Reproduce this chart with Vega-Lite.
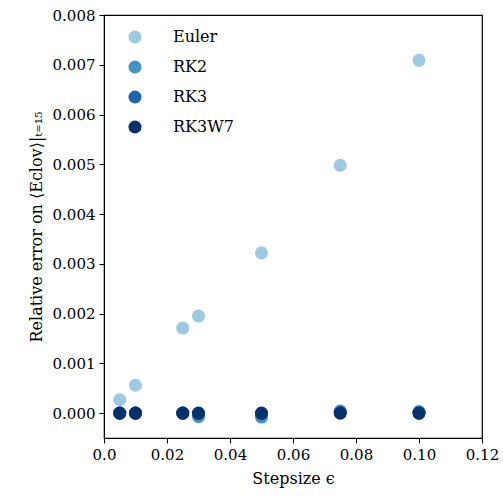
{
  "$schema": "https://vega.github.io/schema/vega-lite/v6.json",
  "width": 378,
  "height": 423,
  "autosize": {"type": "none"},
  "padding": {"left": 104, "top": 15, "right": 21, "bottom": 62},
  "background": "white",
  "config": {
    "font": "DejaVu Serif",
    "view": {"stroke": "black", "strokeWidth": 1.2},
    "axis": {
      "grid": false,
      "domainColor": "black",
      "tickColor": "black",
      "tickSize": 5,
      "labelColor": "black",
      "titleColor": "black",
      "labelFontSize": 15,
      "titleFontSize": 16,
      "titleFontWeight": "normal",
      "labelFont": "DejaVu Serif",
      "titleFont": "DejaVu Serif"
    },
    "legend": {"labelFont": "DejaVu Serif", "labelFontSize": 16, "labelColor": "black"}
  },
  "data": {
    "values": [
      {"eps": 0.005, "err": 0.00027, "method": "Euler"},
      {"eps": 0.01, "err": 0.00056, "method": "Euler"},
      {"eps": 0.025, "err": 0.00171, "method": "Euler"},
      {"eps": 0.03, "err": 0.00195, "method": "Euler"},
      {"eps": 0.05, "err": 0.00322, "method": "Euler"},
      {"eps": 0.075, "err": 0.00498, "method": "Euler"},
      {"eps": 0.1, "err": 0.00709, "method": "Euler"},
      {"eps": 0.005, "err": 0.0, "method": "RK2"},
      {"eps": 0.01, "err": 0.0, "method": "RK2"},
      {"eps": 0.025, "err": 0.0, "method": "RK2"},
      {"eps": 0.03, "err": -0.00007, "method": "RK2"},
      {"eps": 0.05, "err": -0.00008, "method": "RK2"},
      {"eps": 0.075, "err": 0.00004, "method": "RK2"},
      {"eps": 0.1, "err": 0.00003, "method": "RK2"},
      {"eps": 0.005, "err": 0.0, "method": "RK3"},
      {"eps": 0.01, "err": 0.0, "method": "RK3"},
      {"eps": 0.025, "err": 0.0, "method": "RK3"},
      {"eps": 0.03, "err": -0.00001, "method": "RK3"},
      {"eps": 0.05, "err": -0.00001, "method": "RK3"},
      {"eps": 0.075, "err": 0.00001, "method": "RK3"},
      {"eps": 0.1, "err": 0.0, "method": "RK3"},
      {"eps": 0.005, "err": 0.0, "method": "RK3W7"},
      {"eps": 0.01, "err": 0.0, "method": "RK3W7"},
      {"eps": 0.025, "err": 0.0, "method": "RK3W7"},
      {"eps": 0.03, "err": 0.0, "method": "RK3W7"},
      {"eps": 0.05, "err": 0.0, "method": "RK3W7"},
      {"eps": 0.075, "err": 0.0, "method": "RK3W7"},
      {"eps": 0.1, "err": 0.0, "method": "RK3W7"}
    ]
  },
  "mark": {"type": "circle", "size": 170, "opacity": 1},
  "encoding": {
    "x": {
      "field": "eps",
      "type": "quantitative",
      "scale": {"domain": [0, 0.12], "nice": false, "zero": false},
      "axis": {
        "title": "Stepsize ϵ",
        "values": [0, 0.02, 0.04, 0.06, 0.08, 0.1, 0.12],
        "labelExpr": "datum.value == 0 ? '0.0' : datum.label",
        "labelPadding": 4,
        "labelFlush": false,
        "titlePadding": 8
      }
    },
    "y": {
      "field": "err",
      "type": "quantitative",
      "scale": {"domain": [-0.0005, 0.008], "nice": false, "zero": false},
      "axis": {
        "title": "Relative error on ⟨Eclov⟩|ₜ₌₁₅",
        "values": [0, 0.001, 0.002, 0.003, 0.004, 0.005, 0.006, 0.007, 0.008],
        "format": ".3f",
        "labelPadding": 4,
        "labelFlush": false,
        "titlePadding": 8
      }
    },
    "color": {
      "field": "method",
      "type": "nominal",
      "scale": {
        "domain": ["Euler", "RK2", "RK3", "RK3W7"],
        "range": ["#9ecae1", "#4292c6", "#2166ac", "#08306b"]
      },
      "legend": {
        "title": null,
        "orient": "none",
        "legendX": 23,
        "legendY": 14,
        "symbolSize": 170,
        "symbolType": "circle",
        "symbolOpacity": 1,
        "labelOffset": 30,
        "rowPadding": 14
      }
    },
    "order": {"field": "method", "sort": "ascending"}
  }
}
